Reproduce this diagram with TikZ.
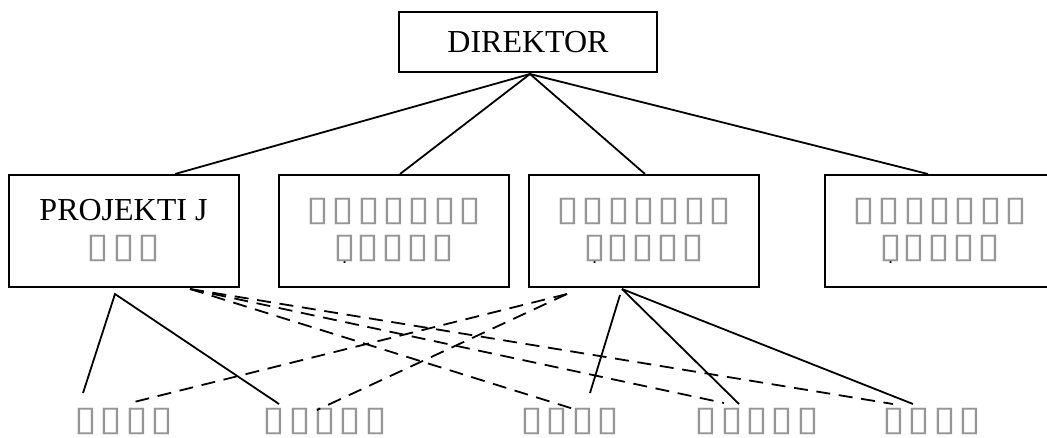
\documentclass[tikz,border=0pt]{standalone}
\usepackage{fontspec}
\setmainfont{Liberation Serif}
\newfontfamily\tofufont[FakeStretch=1.2, LetterSpace=7]{DejaVu Sans}
\usetikzlibrary{calc}

\definecolor{tofugray}{RGB}{150,150,150}
\newcommand\tf[1]{{\tofufont\fontsize{26}{27.75}\selectfont\textcolor{tofugray}{#1}}}
% dot set under the first glyph of a word
\newsavebox\dotbox
\newcommand\dotunder[1]{\sbox\dotbox{#1}\rlap{\usebox\dotbox}\makebox[\wd\dotbox]{\raisebox{-5pt}{\textcolor{black}{\fontsize{11}{11}\selectfont .}}}}

\begin{document}
\begin{tikzpicture}[
		x=0.75pt, y=-0.75pt
		,every node/.append style={font=\fontsize{24}{27.75}\selectfont}
		,box/.style={draw, line width=1.5pt, minimum width=172.5pt, minimum height=84pt, inner sep=0pt, align=center}
		,head/.style={box, minimum width=193.5pt, minimum height=45pt}
		,leaf/.style={inner sep=0pt}
		,link/.style={line width=1.35pt}
		,cross/.style={link, dash pattern=on 10.5pt off 6.5pt}
	]
		\useasboundingbox (0,0) rectangle (1047,437);

		\node [head] (dir) at (528,42) {DIREKTOR};

		\node [box] (b1) at (123.5,231) {PROJEKTI J\\\tf{▯▯▯}};
		\node [box] (b2) at (394,231) {\tf{▯▯▯▯▯▯▯}\\\tf{\dotunder{▯}▯▯▯▯}};
		\node [box] (b3) at (644,231) {\tf{▯▯▯▯▯▯▯}\\\tf{\dotunder{▯}▯▯▯▯}};
		\node [box] (b4) at (940,231) {\tf{▯▯▯▯▯▯▯}\\\tf{\dotunder{▯}▯▯▯▯}};

		\node [leaf] (l1) at (124,421) {\tf{▯▯▯▯}};
		\node [leaf] (l2) at (325,421) {\tf{▯▯▯▯▯}};
		\node [leaf] (l3) at (570,421) {\tf{▯▯▯▯}};
		\node [leaf] (l4) at (757,421) {\tf{▯▯▯▯▯}};
		\node [leaf] (l5) at (932,421) {\tf{▯▯▯▯}};

		\coordinate (top) at ($(dir.south)+(2,1)$);
		\draw [link] (top) -- ($(b1.north)+(51.5,0)$);
		\draw [link] (top) -- ($(b2.north)+(6,0)$);
		\draw [link] (top) -- ($(b3.north)+(1,0)$);
		\draw [link] (top) -- ($(b4.north)+(-12,0)$);

		\coordinate (p1) at ($(b1.south)+(-8.5,6)$);
		\draw [link] ($(l1)+(-41,-28)$) -- (p1) -- ($(l2)+(-46,-17)$);

		\coordinate (p3) at ($(b3.south)+(-22,1)$);
		\draw [link] ($(b3.south)+(-24,7)$) -- ($(l3)+(20,-28)$);
		\draw [link] (p3) -- ($(l4)+(-18,-17)$);
		\draw [link] (p3) -- ($(l5)+(-19,-17)$);

		\coordinate (q1) at ($(b1.south)+(66.5,1)$);
		\draw [cross] (q1) -- ($(l3)+(7,-11)$);
		\draw [cross] (q1) -- ($(l4)+(-33,-18)$);
		\draw [cross] (q1) -- ($(l5)+(-39,-17)$);

		\coordinate (q3) at ($(b3.south)+(-77,6)$);
		\draw [cross] (q3) -- ($(l1)+(6,-18)$);
		\draw [cross] (q3) -- ($(l2)+(-8,-11)$);
	\end{tikzpicture}
\end{document}
